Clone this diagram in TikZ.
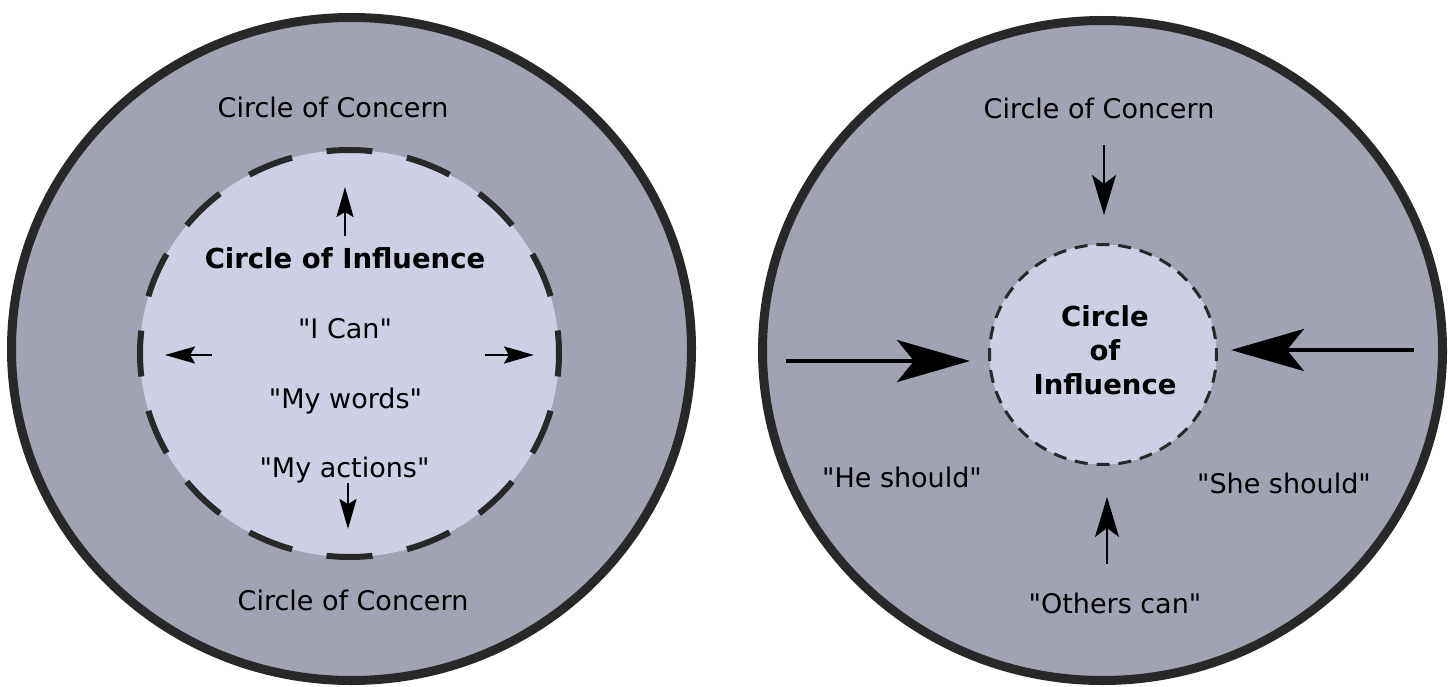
\documentclass[tikz,border=0pt]{standalone}
\usepackage{fontspec}
\setmainfont{DejaVu Sans}
\usetikzlibrary{arrows.meta}
\definecolor{concern}{RGB}{161,163,178}
\definecolor{influence}{RGB}{205,208,227}
\definecolor{rim}{RGB}{40,40,40}
\newcommand{\dq}{\XeTeXglyph\XeTeXcharglyph"22\relax}
\begin{document}
\begin{tikzpicture}[x=1pt,y=-1pt,
  txt/.style={font=\fontsize{27}{32}\selectfont, inner sep=0pt, anchor=base},
  btxt/.style={font=\fontsize{27.5}{32}\selectfont\bfseries, inner sep=0pt, anchor=base},
  outerring/.style={draw=rim, fill=concern, line width=9pt},
  innerL/.style={draw=rim, fill=influence, line width=6pt, dash pattern=on 46pt off 35.1pt, dash phase=23pt},
  innerR/.style={draw=rim, fill=influence, line width=3pt, dash pattern=on 13pt off 8.94pt, dash phase=6.5pt},
  smallarrow/.style={line width=2pt, -{Stealth[length=30pt,width=17pt,inset=5pt]}},
  midarrow/.style={line width=2pt, -{Stealth[length=40pt,width=24pt,inset=9pt]}},
  bigarrow/.style={line width=4pt, -{Stealth[length=73pt,width=42pt,inset=17pt]}},
]
\useasboundingbox (0,0) rectangle (1453,687);
\fill[white] (0,0) rectangle (1453,687);

% ---------- left diagram ----------
\path[outerring] (351.5,349) ellipse [x radius=340, y radius=331.5];
\path[innerL] (349.5,353.5) ellipse [x radius=209.5, y radius=203.5];

\node[txt] (lconcernTop) at (333,118) {Circle of Concern};
\node[btxt] (linfl) at (345,268) {Circle of Influence};
\node[txt] (lcan) at (345,338) {\dq I Can\dq};
\node[txt] (lwords) at (345.5,408) {\dq My words\dq};
\node[txt] (lactions) at (344.5,477) {\dq My actions\dq};
\node[txt] (lconcernBot) at (353,610) {Circle of Concern};

\coordinate (upT) at (345,236);   \coordinate (upH) at (345,187);
\coordinate (leT) at (212,355);   \coordinate (leH) at (165,355);
\coordinate (riT) at (485,355);   \coordinate (riH) at (534,355);
\coordinate (dnT) at (348,483);   \coordinate (dnH) at (348,529);
\draw[smallarrow] (upT) -- (upH);
\draw[smallarrow] (leT) -- (leH);
\draw[smallarrow] (riT) -- (riH);
\draw[smallarrow] (dnT) -- (dnH);

% ---------- right diagram ----------
\path[outerring] (1102.5,350.5) ellipse [x radius=340, y radius=330];
\path[innerR] (1103,354.5) ellipse [x radius=113.5, y radius=110];

\node[txt] (rconcern) at (1099,119) {Circle of Concern};
\node[btxt] (rc1) at (1105,326) {Circle};
\node[btxt] (rc2) at (1105,360) {of};
\node[btxt] (rc3) at (1105,394) {Influence};
\node[txt] (rhe) at (902,487) {\dq He should\dq};
\node[txt] (rshe) at (1284,493) {\dq She should\dq};
\node[txt] (rothers) at (1115,613) {\dq Others can\dq};

\coordinate (tT) at (1104,145);  \coordinate (tH) at (1104,215);
\coordinate (bT) at (1107,564);  \coordinate (bH) at (1107,497);
\coordinate (lT) at (786,361);   \coordinate (lH) at (970,361);
\coordinate (rT) at (1414,350);  \coordinate (rH) at (1231,350);
\draw[midarrow] (tT) -- (tH);
\draw[midarrow] (bT) -- (bH);
\draw[bigarrow] (lT) -- (lH);
\draw[bigarrow] (rT) -- (rH);
\end{tikzpicture}
\end{document}
